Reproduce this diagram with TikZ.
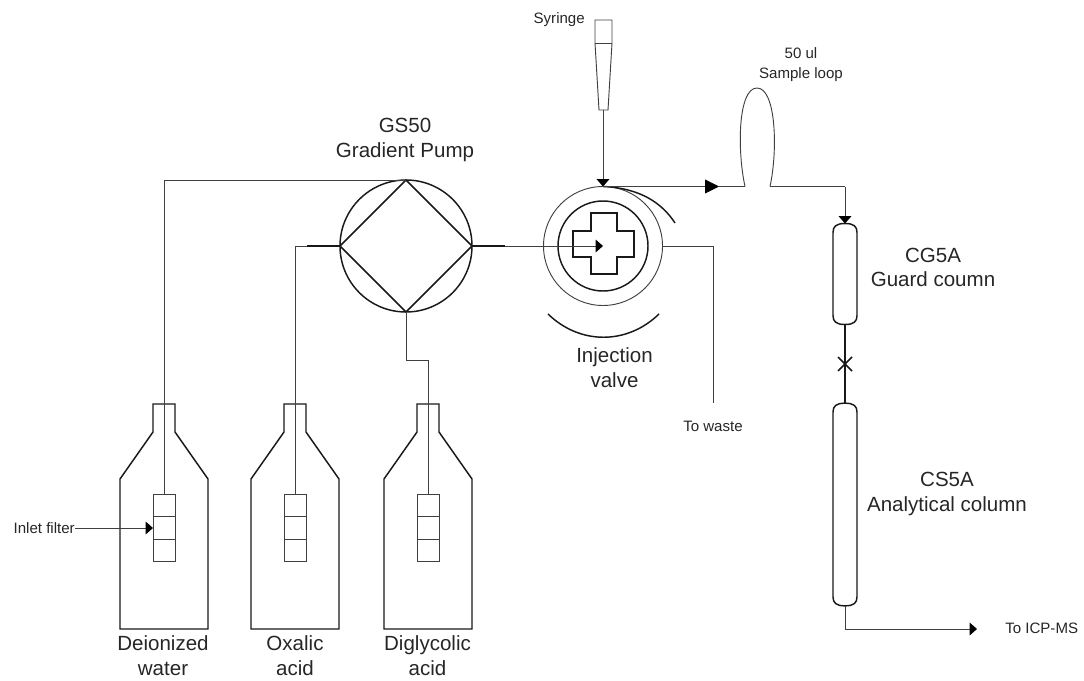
\documentclass[tikz,border=0pt]{standalone}
\usepackage{fontspec}
\setmainfont{Liberation Sans}
\usetikzlibrary{positioning,arrows.meta,calc}

\begin{document}
\begin{tikzpicture}[x=0.75pt,y=-0.75pt,>=Triangle,
   thinline/.style={line width=0.7pt,black!75},
   boldline/.style={line width=1.1pt,black!90},
   smalltip/.style={-{Triangle[length=5.5pt,width=9.5pt,color=black]}},
   bigtip/.style={-{Triangle[length=10.5pt,width=10.5pt,color=black]}},
   biglabel/.style={font=\fontsize{15.4}{18.6}\selectfont,align=center,text=black!85,inner sep=0pt},
   smalllabel/.style={font=\fontsize{11.3}{15}\selectfont,align=center,text=black!85,inner sep=0pt},
   filtercell/.style={draw,thinline,minimum width=16.5pt,minimum height=17pt,inner sep=0pt,outer sep=0pt},
   column/.style={minimum width=18pt,inner sep=0pt,outer sep=0pt}]
  \useasboundingbox (0,0) rectangle (1084,681);

  % pump and valve
  \node[circle,draw,boldline,minimum size=99pt,inner sep=0pt,outer sep=0pt] (pump) at (406,246) {};
  \draw[boldline] (pump.north) -- (pump.east) -- (pump.south) -- (pump.west) -- cycle;
  \node[circle,draw,thinline,minimum size=89.25pt,inner sep=0pt,outer sep=0pt] (valve) at (603,246) {};
  \node[circle,draw,boldline,minimum size=67.5pt,inner sep=0pt,outer sep=0pt] (rotor) at (603,246) {};
  \draw[boldline] (591,213) -- (617,213) -- (617,231) -- (634,231) -- (634,257) -- (617,257)
     -- (617,274) -- (591,274) -- (591,257) -- (573,257) -- (573,231) -- (591,231) -- cycle;
  \draw[boldline] (valve.north) .. controls (640,188) and (662,203) .. (675,223);
  \draw[boldline] (548,314) .. controls (580,345) and (627,345) .. (659,314);

  % bottles
  \foreach \name/\cx in {water/164,oxalic/295,diglycolic/428} {
    \draw[boldline] (\cx-11,404) -- (\cx+11,404) -- (\cx+11,432) -- (\cx+44,479) -- (\cx+44,629)
       -- (\cx-44,629) -- (\cx-44,479) -- (\cx-11,432) -- cycle;
    \node[filtercell] (\name1) at (\cx,505.5) {};
    \node[filtercell] (\name2) at (\cx,528) {};
    \node[filtercell] (\name3) at (\cx,550.5) {};
  }
  \coordinate (oxalicbend) at (295,246);
  \coordinate (diglycolicbend) at (428,360);
  \coordinate (pumpbend) at (406,360);
  \draw[thinline] (water1.north) |- (pump.north);
  \draw[thinline] (oxalic1.north) -- (oxalicbend) -- (pump.west);
  \draw[boldline] (307,246) -- (pump.west);
  \draw[thinline] (diglycolic1.north) -- (diglycolicbend) -- (pumpbend) -- (pump.south);

  % syringe
  \coordinate (syringetip) at (603,110);
  \draw[thinline] (595,20) -- (612,20) -- (612,43) -- (608,110) -- (599,110) -- (595,43) -- cycle;
  \draw[thinline] (595,43) -- (612,43);
  \draw[thinline,smalltip] (syringetip) -- (valve.north);

  % sample loop and columns
  \coordinate (looparrow) at (719,186.5);
  \coordinate (loopin) at (745,186.5);
  \coordinate (looptop) at (757,88);
  \coordinate (loopout) at (770,186.5);
  \coordinate (loopbend) at (845,186.5);
  \node[column,minimum height=75.75pt] (guard) at (845,274) {};
  \node[column,minimum height=152pt] (analytical) at (845,504.5) {};
  \foreach \name in {guard,analytical} {
    \draw[boldline] (\name.north) .. controls ($(\name.north)+(-9,0)$) and ($(\name.north west)+(0,3)$)
       .. ($(\name.north west)+(0,9)$) -- ($(\name.south west)+(0,-9)$)
       .. controls ($(\name.south west)+(0,-3)$) and ($(\name.south)+(-9,0)$) .. (\name.south)
       .. controls ($(\name.south)+(9,0)$) and ($(\name.south east)+(0,-3)$)
       .. ($(\name.south east)+(0,-9)$) -- ($(\name.north east)+(0,9)$)
       .. controls ($(\name.north east)+(0,3)$) and ($(\name.north)+(9,0)$) .. (\name.north) -- cycle;
  }
  \coordinate (cross) at (845,364);
  \coordinate (outbend) at (845,629);
  \coordinate (icpms) at (977,629);
  \coordinate (wastebend) at (713,246);
  \coordinate (wasteend) at (713,403);
  \coordinate (filterlabelend) at (75,528);
  \coordinate (pumpout) at (505,246);

  \draw[thinline,bigtip] (valve.north) -- (looparrow);
  \draw[thinline] (looparrow) -- (loopin);
  \draw[thinline] (loopin) .. controls (737,150) and (738,88) .. (looptop)
     .. controls (776,88) and (778,150) .. (loopout);
  \draw[thinline] (loopout) -- (loopbend);
  \draw[thinline,smalltip] (loopbend) -- (guard.north);
  \draw[boldline] (guard.south) -- (analytical.north);
  \draw[boldline] (838,357) -- (852,371) (852,357) -- (838,371);
  \draw[thinline] (analytical.south) -- (outbend);
  \draw[thinline,smalltip] (outbend) -- (icpms);

  % valve ports
  \draw[boldline] (pump.east) -- (pumpout);
  \draw[thinline] (pumpout) -- (valve.west);
  \draw[thinline,smalltip] (valve.west) -- (rotor.center);
  \draw[thinline] (valve.east) -- (wastebend) -- (wasteend);
  \draw[thinline,smalltip] (filterlabelend) -- (water2.west);

  % labels
  \node[biglabel] (pumplabel) at (405,140) {GS50\\Gradient Pump};
  \node[biglabel] (valvelabel) at (614.5,367.5) {Injection\\valve};
  \node[biglabel] (guardlabel) at (933,267.5) {CG5A\\Guard coumn};
  \node[biglabel] (analyticallabel) at (947,494) {CS5A\\Analytical column};
  \node[biglabel] (waterlabel) at (163,656) {Deionized\\water};
  \node[biglabel] (oxaliclabel) at (295,656) {Oxalic\\acid};
  \node[biglabel] (diglycoliclabel) at (427.5,656) {Diglycolic\\acid};
  \node[smalllabel,anchor=east] (syringelabel) at (585,20) {Syringe};
  \node[smalllabel] (looplabel) at (801,65) {50 ul\\Sample loop};
  \node[smalllabel] (wastelabel) at (713,426) {To waste};
  \node[smalllabel,anchor=west] (icplabel) at (1005,628) {To ICP-MS};
  \node[smalllabel,anchor=east] (filterlabel) at (filterlabelend) {Inlet filter};
\end{tikzpicture}
\end{document}
